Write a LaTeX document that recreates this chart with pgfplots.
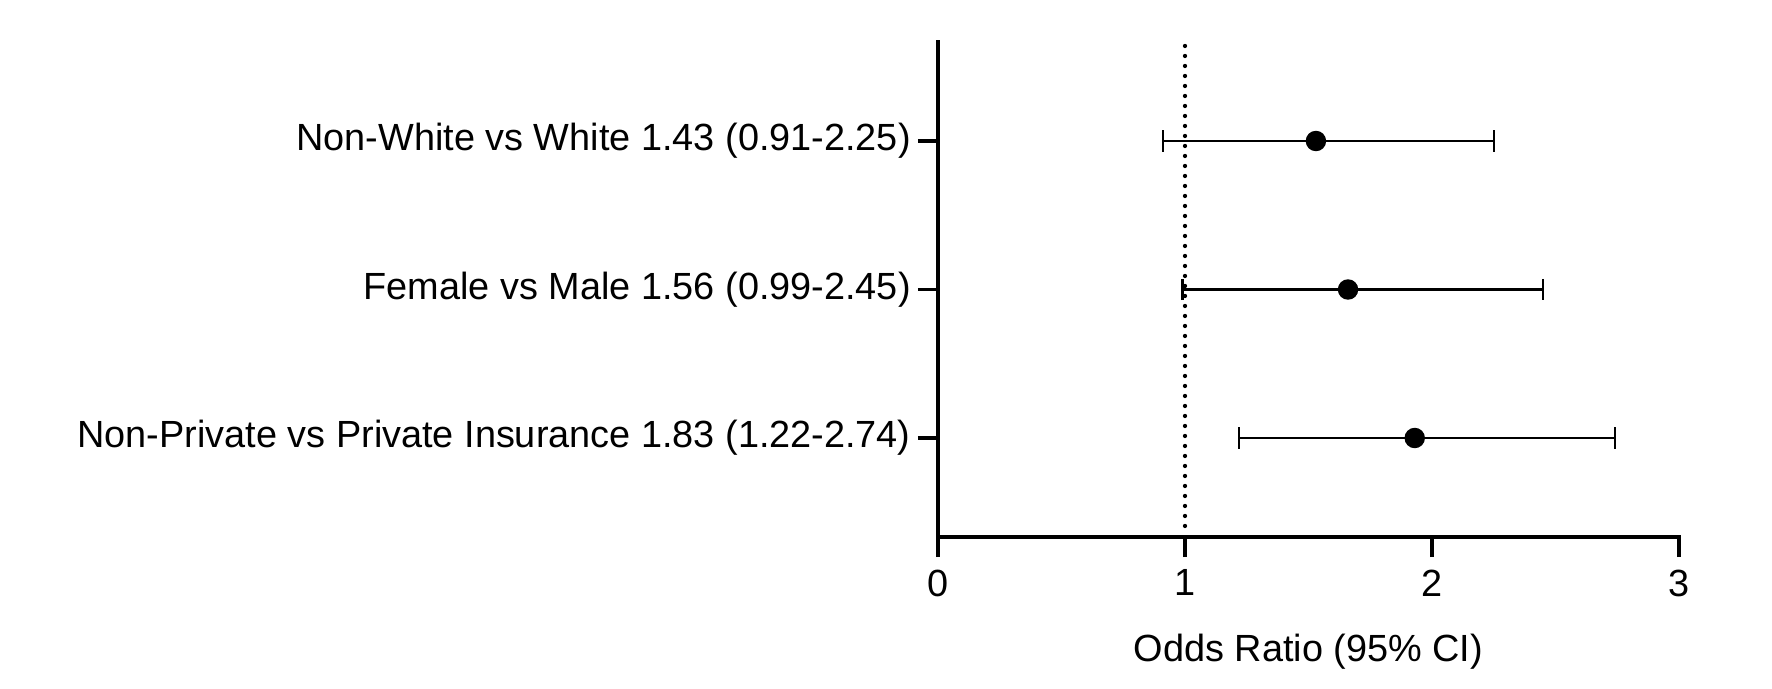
\documentclass[border=0pt]{standalone}
\usepackage{fontspec}
\setmainfont{Liberation Sans}
\usepackage{pgfplots}
\pgfplotsset{compat=1.18}

% odds ratios as drawn (point, lower, upper); rows top to bottom = y 3,2,1
\begin{document}
\begin{tikzpicture}
\begin{axis}[
  name=ax,
  scale only axis,
  width=207.5pt, height=138.6pt,
  xmin=0, xmax=3, ymin=0.3333, ymax=3.6667,
  axis lines=left,
  axis line style={-, line width=1.1pt, line cap=rect},
  tick style={line width=1.1pt, black},
  major tick length=5.6pt,
  tick align=outside,
  xtick={0,1,2,3},
  ytick={1,2,3},
  yticklabels={Non-Private vs Private Insurance 1.83 (1.22-2.74),
               Female vs Male 1.56 (0.99-2.45),
               Non-White vs White 1.43 (0.91-2.25)},
  tick label style={font=\fontsize{10.6}{12}\selectfont},
  yticklabel style={xshift=1.5pt},
  /pgf/number format/assume math mode=true,
  xlabel={Odds Ratio (95\% CI)},
  xlabel style={font=\fontsize{10.6}{12}\selectfont, at={(axis description cs:0.5,0)}, anchor=center, yshift=-32pt},
  clip=false,
]
\addplot[black, line width=1.2pt, line cap=round, dash pattern=on 0pt off 2.8pt]
  coordinates {(1,3.64) (1,0.40)};
\addplot[
  only marks, mark=*, mark size=2.66pt, black,
  error bars/.cd, x dir=both, x explicit,
  error mark=|,
  error bar style={line width=0.6pt, black},
  error mark options={line width=0.6pt, black, mark size=3pt},
] table[x=or, y=y, x error plus expr=\thisrow{hi}-\thisrow{or},
        x error minus expr=\thisrow{or}-\thisrow{lo}] {
y or lo hi
3 1.53 0.91 2.25
2 1.66 0.99 2.45
1 1.93 1.22 2.74
};
\end{axis}
\pgfresetboundingbox
\path[use as bounding box] (ax.south west) ++(-262.64pt,-42.56pt) rectangle ++(496.16pt,192.92pt);
\end{tikzpicture}
\end{document}
